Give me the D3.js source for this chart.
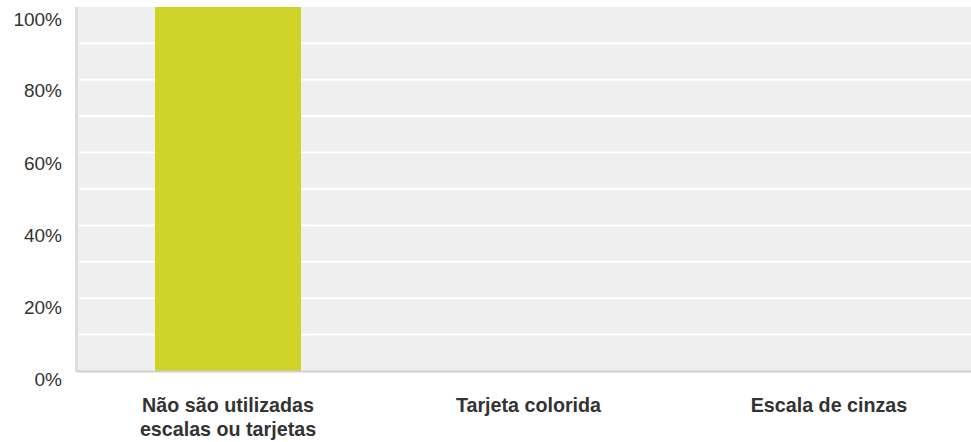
<!DOCTYPE html>
<html>
<head>
<meta charset="utf-8">
<script src="https://d3js.org/d3.v7.min.js"></script>
<style>
    body { margin: 0; background: #fff; }
    svg { display: block; font-family: "Liberation Sans", Arial, sans-serif; }
    .tick-label { font-size: 19px; fill: #333; }
    .cat-label { font-size: 19.7px; font-weight: bold; fill: #333; }
</style>
</head>
<body>
<svg width="971" height="442"></svg>
<script>
    // chart data
    const categories = [["Não são utilizadas", "escalas ou tarjetas"], ["Tarjeta colorida"], ["Escala de cinzas"]];
    const values = [100, 0, 0];
    const yTicks = [0, 20, 40, 60, 80, 100];
    const gridSteps = [10, 20, 30, 40, 50, 60, 70, 80, 90];

    const svg = d3.select('svg');

    const x = d3.scaleBand()
        .domain(d3.range(categories.length))
        .range([77.75, 979.25])
        .paddingInner(0.514)
        .paddingOuter(0.257);

    const y = d3.scaleLinear()
        .domain([0, 100])
        .range([371, 7]);

    // plot background
    svg.append('rect')
        .attr('x', 78).attr('y', y(100))
        .attr('width', 971 - 78).attr('height', y(0) - y(100))
        .attr('fill', '#efefef');

    // left edge
    svg.append('rect')
        .attr('x', 75).attr('y', y(100))
        .attr('width', 3).attr('height', y(0) - y(100) + 1)
        .attr('fill', '#dedede');

    // white grid lines
    svg.append('g').selectAll('line')
        .data(gridSteps)
        .enter()
        .append('line')
        .attr('x1', 79).attr('x2', 971)
        .attr('y1', d => y(d)).attr('y2', d => y(d))
        .attr('stroke', '#fff')
        .attr('stroke-width', 2);

    // bars
    svg.append('g').selectAll('rect')
        .data(values)
        .enter()
        .append('rect')
        .attr('x', (d, i) => x(i))
        .attr('width', x.bandwidth())
        .attr('y', d => y(d))
        .attr('height', d => y(0) - y(d))
        .attr('fill', '#d0d32a');

    // bottom line
    svg.append('rect')
        .attr('x', 77).attr('y', y(0) - 0.5)
        .attr('width', 971 - 77).attr('height', 2)
        .attr('fill', '#d0d0d0');

    // y axis labels
    const yAxis = svg.append('g')
        .attr('transform', 'translate(62,0)')
        .call(d3.axisLeft(y).tickValues(yTicks).tickSize(0).tickFormat(d => d + '%'));
    yAxis.select('.domain').remove();
    yAxis.selectAll('text')
        .attr('class', 'tick-label')
        .attr('x', 0)
        .attr('dy', null)
        .attr('y', d => 14 + d * 0.04)
        .attr('font-size', null)
        .attr('font-family', null)
        .attr('fill', null);

    // category labels
    svg.append('g').selectAll('text')
        .data(categories)
        .enter()
        .append('text')
        .attr('class', 'cat-label')
        .attr('text-anchor', 'middle')
        .attr('x', (d, i) => x(i) + x.bandwidth() / 2)
        .attr('y', y(0) + 41)
        .selectAll('tspan')
        .data(d => d)
        .enter()
        .append('tspan')
        .attr('x', function () { return d3.select(this.parentNode).attr('x'); })
        .attr('dy', (d, i) => i === 0 ? 0 : 24)
        .text(d => d);
</script>
</body>
</html>
